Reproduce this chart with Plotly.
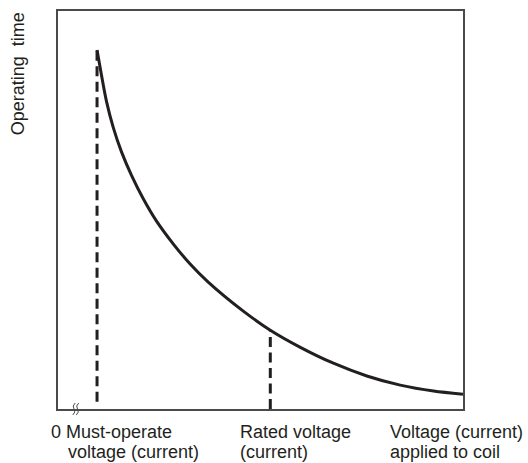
import plotly.graph_objects as go

# Operating time vs. coil voltage (current), normalised 0-100 on both axes
voltage = [9.64, 10.73, 11.97, 13.6, 15.68, 18.15, 21.02, 24.33, 28.44, 32.57,
           37.09, 45.75, 52.42, 59.84, 68.0, 76.26, 84.5, 92.73, 100.0]
op_time = [90.2, 83.9, 77.3, 70.9, 64.6, 58.7, 52.9, 47.2, 41.5, 36.5,
           31.9, 24.6, 19.8, 15.5, 11.5, 8.3, 6.0, 4.5, 3.7]

must_operate_v = 9.64
must_operate_t = 90.2
rated_v = 52.42
rated_t = 19.8

W, H = 528, 463
ML, MR, MT, MB = 58, 65, 9, 54
FONT = "Liberation Sans, Arial, Helvetica, sans-serif"
INK = "#231f20"


def px(x):
    return (x - ML) / (W - ML - MR)


def py(y):
    return (H - MB - y) / (H - MT - MB)


fig = go.Figure()

# Dashed guides from the axis up to the curve
fig.add_trace(go.Scatter(
    x=[must_operate_v, must_operate_v], y=[1.8, must_operate_t],
    mode="lines", line=dict(color=INK, width=3, dash="10px,5.5px"),
    hoverinfo="skip", showlegend=False))
fig.add_trace(go.Scatter(
    x=[rated_v, rated_v], y=[0, rated_t],
    mode="lines", line=dict(color=INK, width=3, dash="10px,5.5px"),
    hoverinfo="skip", showlegend=False))

# Operating-time curve
fig.add_trace(go.Scatter(
    x=voltage, y=op_time, mode="lines",
    line=dict(color=INK, width=3, shape="spline", smoothing=0.8),
    showlegend=False))

axis_common = dict(range=[0, 100], showgrid=False, zeroline=False,
                   showticklabels=False, ticks="", showline=True,
                   mirror=True, linecolor="#4a4a4a", linewidth=1.5,
                   fixedrange=True)

labels = [
    ("0", 49, 432),
    ("Must-operate", 64, 432),
    ("voltage (current)", 66, 452),
    ("Rated voltage", 238, 432),
    ("(current)", 238, 452),
    ("Voltage (current)", 388, 432),
    ("applied to coil", 388, 452),
]
annotations = [
    dict(text=t, x=px(x), y=py(y), xref="paper", yref="paper",
         xanchor="left", yanchor="middle", showarrow=False,
         font=dict(family=FONT, size=18, color=INK))
    for t, x, y in labels
]
annotations.append(dict(
    text="Operating  time", x=px(17.5), y=py(72), xref="paper", yref="paper",
    xanchor="center", yanchor="middle", textangle=-90, showarrow=False,
    font=dict(family=FONT, size=18, color=INK)))

# Axis-break mark near the origin
bx, by = 74, 409
shapes = []
for dx in (0, 3.5):
    x0 = bx + dx
    path = (f"M {px(x0 + 1.2)} {py(by - 6)} "
            f"Q {px(x0 - 2.2)} {py(by - 3)} {px(x0)} {py(by)} "
            f"Q {px(x0 + 2.2)} {py(by + 3)} {px(x0 - 1.2)} {py(by + 6)}")
    shapes.append(dict(type="path", path=path, xref="paper", yref="paper",
                       line=dict(color="#4a4a4a", width=1)))

fig.update_layout(
    width=W, height=H,
    margin=dict(l=ML, r=MR, t=MT, b=MB),
    paper_bgcolor="white", plot_bgcolor="white",
    xaxis=axis_common, yaxis=axis_common,
    annotations=annotations, shapes=shapes,
)

fig.write_html("out.html")
